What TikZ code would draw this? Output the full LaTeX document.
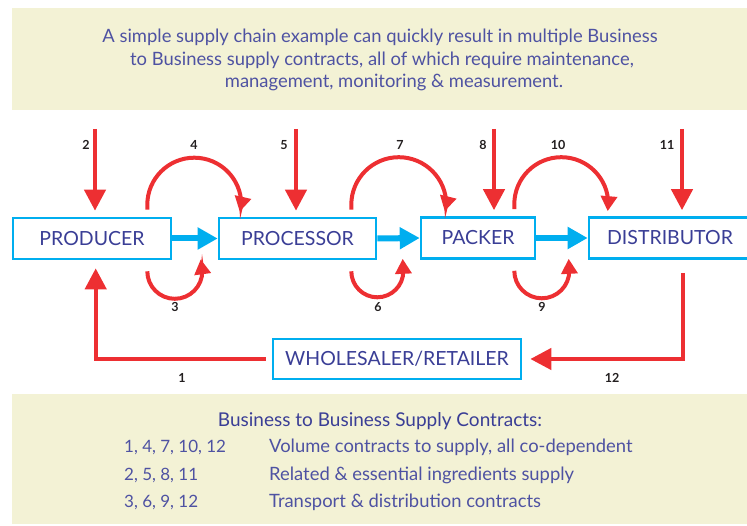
\documentclass[tikz,border=0pt]{standalone}
\usepackage{fontspec}
\setmainfont{Lato}
\usetikzlibrary{arrows.meta,calc}
\definecolor{txtblue}{RGB}{58,62,150}
\definecolor{lighttxt}{RGB}{78,82,162}
\definecolor{banner}{RGB}{243,242,213}
\definecolor{cyanb}{RGB}{0,174,239}
\definecolor{redc}{RGB}{237,47,50}
\definecolor{numc}{RGB}{35,31,32}
\begin{document}
\begin{tikzpicture}[x=1pt,y=1pt,
 box/.style={draw=cyanb, line width=2.6pt, fill=white, minimum height=41pt, inner sep=0pt, font=\fontsize{19.5}{21}\selectfont, text=txtblue},
 flow/.style={draw=cyanb, line width=6pt, -{Triangle[length=20pt,width=21pt]}},
 feed/.style={draw=redc, line width=4.3pt, -{Triangle[length=21pt,width=21pt]}},
 loopar/.style={draw=redc, line width=4pt, -{Triangle[length=15pt,width=16pt]}},
 num/.style={font=\fontsize{12.5}{13}\selectfont\bfseries, text=numc, inner sep=0pt},
 body/.style={font=\fontsize{18.4}{20}\selectfont, text=lighttxt, inner sep=0pt, anchor=base},
 legend/.style={font=\fontsize{18.4}{20}\selectfont, text=lighttxt, inner sep=0pt, anchor=base west},
 legnum/.style={font=\fontsize{17}{20}\selectfont, text=lighttxt, inner sep=0pt, anchor=base west},
]
\useasboundingbox (0,0) rectangle (747,525);
\fill[banner] (12,415) rectangle (747,517);
\fill[banner] (12,1) rectangle (747,131);

% top text
\node[body] (t1) at (380,482) {A simple supply chain example can quickly result in multiple Business};
\node[body] (t2) at (382,459) {to Business supply contracts, all of which require maintenance,};
\node[body] (t3) at (394,437) {management, monitoring \& measurement.};

% nodes
\node[box, minimum width=158pt] (prod) at (92,286.5) {PRODUCER};
\node[box, minimum width=157pt] (proc) at (297.5,286.5) {PROCESSOR};
\node[box, minimum width=114pt] (pack) at (478,287) {PACKER};
\node[box, minimum width=162pt] (dist) at (670,287) {DISTRIBUTOR};
\node[box, minimum width=248pt, minimum height=40pt] (whole) at (397,166) {WHOLESALER/RETAILER};

% flow arrows
\draw[flow] (prod.east) -- (proc.west);
\draw[flow] (proc.east) -- (pack.west);
\draw[flow] (pack.east) -- (dist.west);

% feed arrows from above
\coordinate (s2) at (95,396);
\coordinate (s5) at (296,396);
\coordinate (s8) at (494,396);
\coordinate (s11) at (682,396);
\draw[feed, shorten >=6pt] (s2) -- (s2 |- prod.north);
\draw[feed, shorten >=6pt] (s5) -- (s5 |- proc.north);
\draw[feed, shorten >=6pt] (s8) -- (s8 |- pack.north);
\draw[feed, shorten >=6pt] (s11) -- (s11 |- dist.north);

% upper loops
\draw[loopar] ($(prod.north east)+(-25,7)$) -- ++(0,5) arc[start angle=180,end angle=0,radius=47] -- ($(proc.north west)+(22,5)$);
\draw[loopar] ($(proc.north east)+(-26,7)$) -- ++(0,5) arc[start angle=180,end angle=0,radius=47.5] -- ($(pack.north west)+(25,5)$);
\draw[loopar] ($(pack.north east)+(-22,7)$) -- ++(0,5) arc[start angle=180,end angle=0,radius=47] -- ($(dist.north west)+(20,5)$);

% lower loops
\draw[loopar] ($(prod.south east)+(-25,-11)$) arc[start angle=180,end angle=360,radius=27.5] -- ($(proc.south west)+(-17,1)$);
\draw[loopar] ($(proc.south east)+(-26,-11)$) arc[start angle=180,end angle=360,radius=26] -- ($(pack.south west)+(-17,1)$);
\draw[loopar] ($(pack.south east)+(-22,-11)$) arc[start angle=180,end angle=360,radius=27.5] -- ($(dist.south west)+(-19,1)$);

% return path
\draw[feed, shorten >=8pt] ($(dist.south west)+(95,-13)$) |- (whole.east);
\draw[feed, shorten <=6pt, shorten >=8pt] (whole.west) -| ($(prod.south west)+(84,0)$);

% numbers
\node[num] (n2) at (86,380) {2};
\node[num] (n4) at (194,380) {4};
\node[num] (n5) at (284,380) {5};
\node[num] (n7) at (400,380) {7};
\node[num] (n8) at (483,380) {8};
\node[num] (n10) at (558,380) {10};
\node[num] (n11) at (667,380) {11};
\node[num] (n3) at (175,218) {3};
\node[num] (n6) at (378,218) {6};
\node[num] (n9) at (542,218) {9};
\node[num] (n1) at (182,147) {1};
\node[num] (n12) at (612,147) {12};

% legend
\node[body, text=txtblue, font=\fontsize{19}{20}\selectfont] (lt) at (380,99) {Business to Business Supply Contracts:};
\node[legnum] (a1) at (124,72) {1, 4, 7, 10, 12};
\node[legend] (b1) at (269,72) {Volume contracts to supply, all co-dependent};
\node[legnum] (a2) at (124,45) {2, 5, 8, 11};
\node[legend] (b2) at (269,45) {Related \& essential ingredients supply};
\node[legnum] (a3) at (124,18) {3, 6, 9, 12};
\node[legend] (b3) at (269,18) {Transport \& distribution contracts};
\end{tikzpicture}
\end{document}
